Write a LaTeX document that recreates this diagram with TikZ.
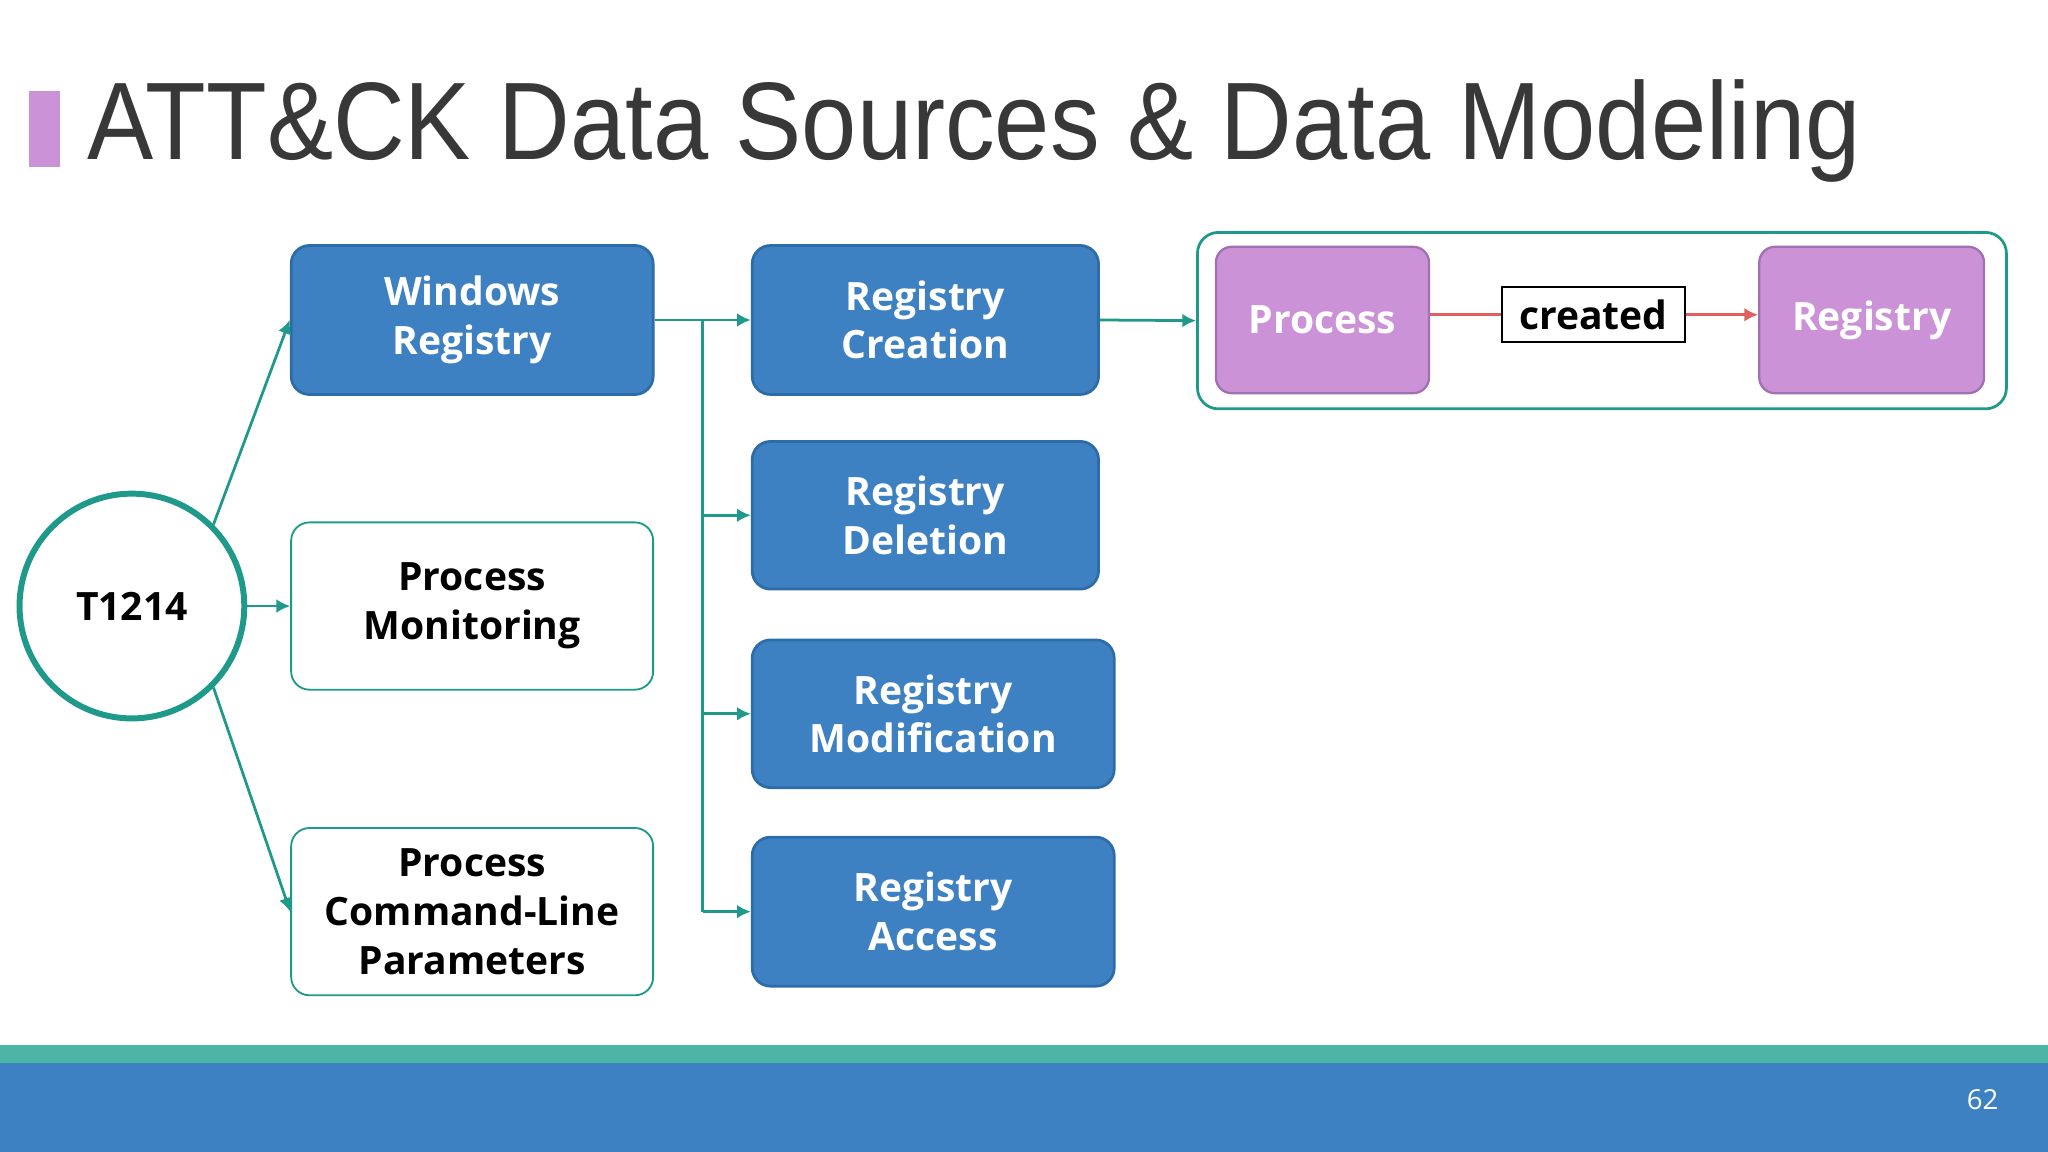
\documentclass[tikz,border=0pt]{standalone}
\usepackage{fontspec}
\setmainfont{Open Sans}
\newfontfamily\titlefont[FakeStretch=0.9]{Liberation Sans}
\usetikzlibrary{arrows.meta}
\definecolor{boxblue}{HTML}{3D81C3}
\definecolor{boxedge}{HTML}{2E6CA8}
\definecolor{teal}{HTML}{1F9A8A}
\definecolor{lilac}{HTML}{CC92D8}
\definecolor{lilacedge}{HTML}{A070B0}
\definecolor{stripe}{HTML}{4CB5A5}
\definecolor{arrowred}{HTML}{E06060}
\begin{document}
\begin{tikzpicture}[x=0.01cm,y=-0.01cm,
    bluebox/.style={draw=boxedge, line width=0.6pt, fill=boxblue, rounded corners=0.14cm,
      text=white, font=\fontsize{8.5}{10.6}\selectfont\bfseries, align=center},
    whitebox/.style={draw=teal, line width=0.4pt, fill=white, rounded corners=0.14cm,
      text=black, font=\fontsize{8.5}{10.6}\selectfont\bfseries, align=center},
    lilacbox/.style={draw=lilacedge, line width=0.5pt, fill=lilac, rounded corners=0.12cm,
      text=white, font=\fontsize{8.5}{10.6}\selectfont\bfseries, align=center},
    link/.style={draw=teal, line width=0.6pt, -{Latex[length=3pt,width=3pt]}}]
  \useasboundingbox (0,0) rectangle (1568,882);
  \fill[white] (0,0) rectangle (1568,882);
  % title
  \fill[lilac] (22,70) rectangle (46,128);
  \node[anchor=base west, inner sep=0, text=black!78, font=\titlefont\fontsize{24}{26}\selectfont]
    (title) at (66,122) {ATT\&CK Data Sources \& Data Modeling};
  % footer
  \fill[stripe] (0,800) rectangle (1568,814);
  \fill[boxblue] (0,814) rectangle (1568,882);
  \node[text=white, font=\fontsize{6}{7}\selectfont] (page) at (1518,842) {62};
  % technique
  \node[circle, draw=teal, line width=1.3pt, minimum size=1.72cm, fill=white,
    font=\fontsize{8.5}{10}\selectfont\bfseries] (tech) at (101,464) {T1214};
  % data sources
  \node[bluebox, minimum width=2.77cm, minimum height=1.14cm] (winreg) at (361.5,245) {Windows\\Registry};
  \node[whitebox, minimum width=2.77cm, minimum height=1.28cm] (procmon) at (361.5,464) {Process\\Monitoring};
  \node[whitebox, minimum width=2.77cm, minimum height=1.28cm] (proccmd) at (361.5,698) {Process\\Command-Line\\Parameters};
  % components
  \node[bluebox, minimum width=2.65cm, minimum height=1.14cm] (create) at (708.5,245) {Registry\\Creation};
  \node[bluebox, minimum width=2.65cm, minimum height=1.13cm] (delete) at (708.5,394.5) {Registry\\Deletion};
  \node[bluebox, minimum width=2.77cm, minimum height=1.13cm] (modify) at (714.5,546.5) {Registry\\Modification};
  \node[bluebox, minimum width=2.77cm, minimum height=1.14cm] (access) at (714.5,698) {Registry\\Access};
  % relationship
  \node[draw=teal, line width=0.6pt, rounded corners=0.16cm, minimum width=6.19cm, minimum height=1.35cm]
    (model) at (1226.5,245.5) {};
  \node[lilacbox, minimum width=1.63cm, minimum height=1.12cm] (proc) at (1012.5,245) {Process};
  \node[lilacbox, minimum width=1.72cm, minimum height=1.12cm] (reg) at (1433,245) {Registry};
  \node[draw=black, line width=0.5pt, minimum width=1.4cm, minimum height=0.42cm, inner sep=0,
    font=\fontsize{8.5}{10}\selectfont\bfseries] (created) at (1220,241) {created};
  \draw[arrowred, line width=0.6pt] (proc.east |- created) -- (created.west);
  \draw[arrowred, line width=0.6pt, -{Latex[length=3pt,width=3pt]}] (created.east) -- (reg.west |- created);
  % links
  \draw[link] (tech.north east) -- (winreg.west);
  \draw[link] (tech.east) -- (procmon.west);
  \draw[link] (tech.south east) -- (proccmd.west);
  \coordinate (trunk) at (538,245);
  \draw[link] (winreg.east) -- (create.west);
  \draw[teal, line width=0.6pt] (trunk) -- (trunk |- access.west);
  \draw[link] (trunk |- delete.west) -- (delete.west);
  \draw[link] (trunk |- modify.west) -- (modify.west);
  \draw[link] (trunk |- access.west) -- (access.west);
  \draw[link] (create.east) -- (model.west);
\end{tikzpicture}
\end{document}
